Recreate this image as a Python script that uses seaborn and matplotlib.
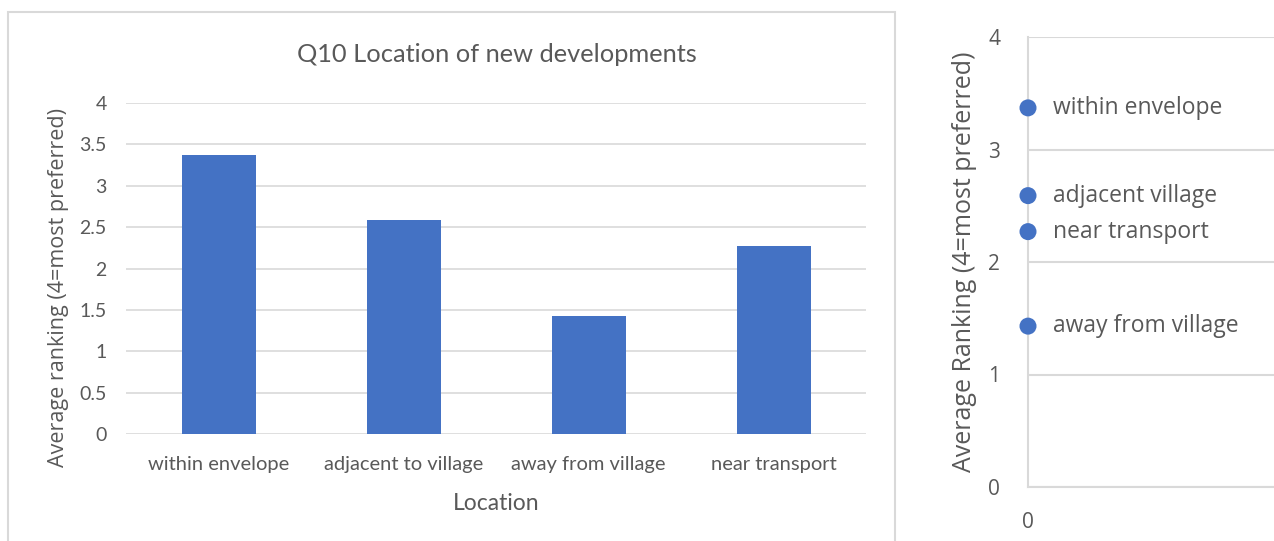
import matplotlib
matplotlib.use("Agg")
import matplotlib.pyplot as plt
from matplotlib import font_manager
from matplotlib.patches import Rectangle
import seaborn as sns
import pandas as pd

# Survey results: average ranking per location option (4 = most preferred)
locations = ["within envelope", "adjacent to village", "away from village", "near transport"]
avg_ranking = [3.37, 2.59, 1.43, 2.27]

# Short names used beside the dots in the right-hand panel
dot_labels = ["within envelope", "adjacent village", "away from village", "near transport"]
dot_x = [0, 0, 0, 0]

left_yticks = [0, 0.5, 1, 1.5, 2, 2.5, 3, 3.5, 4]
right_yticks = [0, 1, 2, 3, 4]

BLUE = "#4472C4"
TEXT = "#595959"
GRID = "#D9D9D9"

sns.set_style("white")


def pick_font(candidates):
    names = {f.name for f in font_manager.fontManager.ttflist}
    for c in candidates:
        if c in names:
            return c
    return "DejaVu Sans"


body = pick_font(["Lato", "Liberation Sans"])
ui = pick_font(["Open Sans", "Noto Sans"])
plt.rcParams["font.family"] = [ui, "DejaVu Sans"]

W, H = 1274, 541
fig = plt.figure(figsize=(W / 100, H / 100), dpi=100)


def box(x0, y0, x1, y1):
    return [x0 / W, 1 - y1 / H, (x1 - x0) / W, (y1 - y0) / H]


# Chart frame around the bar chart
fig.patches.append(Rectangle((8 / W, -0.01), (895 - 8) / W, 1 - 12 / H + 0.01,
                             transform=fig.transFigure, fill=False,
                             edgecolor=GRID, linewidth=1.5))

# ---- Bar chart ----
ax = fig.add_axes(box(126, 103, 866, 434))
df = pd.DataFrame({"Location": locations, "Average": avg_ranking})
sns.barplot(data=df, x="Location", y="Average", ax=ax, color=BLUE,
            width=0.4, saturation=1, edgecolor="none", zorder=3)
ax.set_xlim(-0.5, len(locations) - 0.5)
ax.set_ylim(0, 4)
ax.set_yticks(left_yticks)
ax.set_yticklabels([f"{t:g}" for t in left_yticks], fontfamily=body, fontsize=14, color=TEXT)
ax.set_xticks(range(len(locations)))
ax.set_xticklabels(locations, fontfamily=body, fontsize=14.5, color=TEXT)
ax.tick_params(axis="both", length=0)
ax.tick_params(axis="y", pad=14)
ax.tick_params(axis="x", pad=16)
for s in ax.spines.values():
    s.set_visible(False)
ax.grid(axis="y", color=GRID, linewidth=1.2, zorder=0)
ax.set_axisbelow(True)
ax.set_xlabel("Location", fontfamily=body, fontsize=16.5, color=TEXT, labelpad=14)
ax.set_ylabel("Average ranking (4=most preferred)", fontsize=15.5, color=TEXT)
ax.yaxis.set_label_coords(-0.077, 0.444)
fig.text(497 / W, 1 - 55 / H, "Q10 Location of new developments", ha="center", va="center",
         fontfamily=body, fontsize=18.3, color=TEXT)

# ---- Dot ranking ----
ax2 = fig.add_axes(box(1028, 37, 1300, 487))
sns.scatterplot(x=dot_x, y=avg_ranking, ax=ax2, color=BLUE, s=150,
                edgecolor="none", clip_on=False, zorder=4, legend=False)
for x, y, lab in zip(dot_x, avg_ranking, dot_labels):
    ax2.annotate(lab, (x, y), xytext=(18, 0), textcoords="offset points",
                 ha="left", va="center", fontsize=16.5, color=TEXT)
ax2.set_xlim(0, 1)
ax2.set_ylim(0, 4)
ax2.set_yticks(right_yticks)
ax2.set_yticklabels([str(t) for t in right_yticks], fontsize=15, color=TEXT)
ax2.set_xticks([0])
ax2.set_xticklabels(["0"], fontsize=15, color=TEXT)
ax2.tick_params(axis="both", length=0)
ax2.tick_params(axis="y", pad=20)
ax2.tick_params(axis="x", pad=18)
ax2.grid(axis="y", color=GRID, linewidth=1.5, zorder=0)
ax2.set_axisbelow(True)
for side in ["top", "right"]:
    ax2.spines[side].set_visible(False)
for side in ["left", "bottom"]:
    ax2.spines[side].set_color(GRID)
    ax2.spines[side].set_linewidth(1.5)
ax2.set_ylabel("Average Ranking (4=most preferred)", fontsize=18, color=TEXT, labelpad=8)

fig.savefig("out.png", dpi=100, facecolor="white")
